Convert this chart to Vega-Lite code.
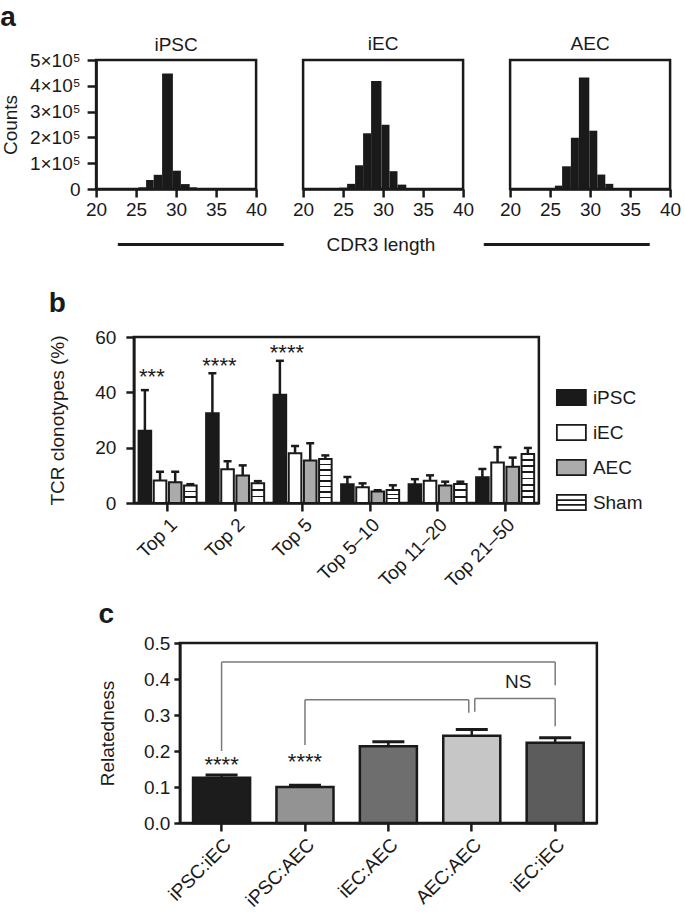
{
  "$schema": "https://vega.github.io/schema/vega-lite/v6.json",
  "padding": {"left": 0, "top": 3, "right": 0, "bottom": 0},
  "background": "#ffffff",
  "config": {
    "font": "Liberation Sans",
    "view": {"stroke": "#1a1a1a", "strokeWidth": 2.5},
    "axis": {
      "domainColor": "#1a1a1a", "domainWidth": 2.5, "tickColor": "#1a1a1a", "tickWidth": 2.5, "tickSize": 8,
      "labelColor": "#1a1a1a", "labelFontSize": 19, "titleFontSize": 19, "titleFontWeight": "normal",
      "titleColor": "#1a1a1a", "grid": false, "labelFont": "Liberation Sans", "titleFont": "Liberation Sans", "labelOverlap": false
    },
    "title": {"color": "#1a1a1a", "font": "Liberation Sans"}
  },
  "resolve": {"scale": {"fill": "independent", "shape": "independent", "x": "independent", "y": "independent"}, "legend": {"fill": "independent", "shape": "independent"}},
  "datasets": {
    "hist": [
      {"s": "iPSC", "x": 25.3, "x2": 26.25, "n": 6500},
      {"s": "iPSC", "x": 26.25, "x2": 27.2, "n": 35000},
      {"s": "iPSC", "x": 27.2, "x2": 28.25, "n": 55000},
      {"s": "iPSC", "x": 28.25, "x2": 29.6, "n": 448000},
      {"s": "iPSC", "x": 29.6, "x2": 30.6, "n": 71000},
      {"s": "iPSC", "x": 30.6, "x2": 31.7, "n": 19000},
      {"s": "iPSC", "x": 31.7, "x2": 32.6, "n": 6500},
      {"s": "iEC", "x": 24.5, "x2": 25.5, "n": 5000},
      {"s": "iEC", "x": 25.5, "x2": 26.5, "n": 20000},
      {"s": "iEC", "x": 26.5, "x2": 27.5, "n": 92000},
      {"s": "iEC", "x": 27.5, "x2": 28.5, "n": 216000},
      {"s": "iEC", "x": 28.5, "x2": 29.8, "n": 419000},
      {"s": "iEC", "x": 29.8, "x2": 30.8, "n": 249000},
      {"s": "iEC", "x": 30.8, "x2": 31.8, "n": 69000},
      {"s": "iEC", "x": 31.8, "x2": 32.9, "n": 17000},
      {"s": "AEC", "x": 24.6, "x2": 25.6, "n": 4000},
      {"s": "AEC", "x": 25.6, "x2": 26.5, "n": 13000},
      {"s": "AEC", "x": 26.5, "x2": 27.6, "n": 88000},
      {"s": "AEC", "x": 27.6, "x2": 28.6, "n": 199000},
      {"s": "AEC", "x": 28.6, "x2": 29.9, "n": 432000},
      {"s": "AEC", "x": 29.9, "x2": 30.9, "n": 226000},
      {"s": "AEC", "x": 30.9, "x2": 31.9, "n": 56000},
      {"s": "AEC", "x": 31.9, "x2": 32.9, "n": 20000}
    ],
    "tcr": [
      {"cat": "Top 1", "group": "iPSC", "value": 26.1, "err": 40.8},
      {"cat": "Top 1", "group": "iEC", "value": 8.1, "err": 11.3},
      {"cat": "Top 1", "group": "AEC", "value": 7.5, "err": 11.3},
      {"cat": "Top 1", "group": "Sham", "value": 6.3, "err": 6.8},
      {"cat": "Top 2", "group": "iPSC", "value": 32.4, "err": 46.9},
      {"cat": "Top 2", "group": "iEC", "value": 12.2, "err": 15.1},
      {"cat": "Top 2", "group": "AEC", "value": 9.9, "err": 13.6},
      {"cat": "Top 2", "group": "Sham", "value": 7.1, "err": 7.9},
      {"cat": "Top 5", "group": "iPSC", "value": 39.1, "err": 51.4},
      {"cat": "Top 5", "group": "iEC", "value": 18.0, "err": 20.6},
      {"cat": "Top 5", "group": "AEC", "value": 15.4, "err": 21.6},
      {"cat": "Top 5", "group": "Sham", "value": 15.9, "err": 17.2},
      {"cat": "Top 5–10", "group": "iPSC", "value": 6.8, "err": 9.4},
      {"cat": "Top 5–10", "group": "iEC", "value": 5.7, "err": 7.1},
      {"cat": "Top 5–10", "group": "AEC", "value": 4.2, "err": 4.6},
      {"cat": "Top 5–10", "group": "Sham", "value": 4.7, "err": 6.4},
      {"cat": "Top 11–20", "group": "iPSC", "value": 6.8, "err": 8.6},
      {"cat": "Top 11–20", "group": "iEC", "value": 8.0, "err": 10.0},
      {"cat": "Top 11–20", "group": "AEC", "value": 6.3, "err": 7.7},
      {"cat": "Top 11–20", "group": "Sham", "value": 6.9, "err": 7.7},
      {"cat": "Top 21–50", "group": "iPSC", "value": 9.3, "err": 12.3},
      {"cat": "Top 21–50", "group": "iEC", "value": 14.6, "err": 20.2},
      {"cat": "Top 21–50", "group": "AEC", "value": 13.1, "err": 16.4},
      {"cat": "Top 21–50", "group": "Sham", "value": 17.7, "err": 19.9}
    ],
    "tcrStars": [
      {"cat": "Top 1", "group": "iPSC", "y": 43.0, "label": "***"},
      {"cat": "Top 2", "group": "iPSC", "y": 46.9, "label": "****"},
      {"cat": "Top 5", "group": "iPSC", "y": 51.8, "label": "****"}
    ],
    "rel": [
      {"pair": "iPSC:iEC", "value": 0.126, "err": 0.133},
      {"pair": "iPSC:AEC", "value": 0.100, "err": 0.105},
      {"pair": "iEC:AEC", "value": 0.213, "err": 0.226},
      {"pair": "AEC:AEC", "value": 0.2426, "err": 0.260},
      {"pair": "iEC:iEC", "value": 0.223, "err": 0.237}
    ],
    "relStars": [
      {"pair": "iPSC:iEC", "y": 0.143, "label": "****"},
      {"pair": "iPSC:AEC", "y": 0.149, "label": "****"}
    ],
    "relNS": [
      {"pair": "iEC:iEC", "y": 0.376, "label": "NS"}
    ],
    "brackets": [
      {"b": 1, "from": "iPSC:iEC", "to": "iEC:iEC", "yl": 0.2, "yr": 0.3825, "top": 0.447},
      {"b": 2, "from": "iPSC:AEC", "to": "AEC:AEC", "yl": 0.217, "yr": 0.306, "top": 0.3425},
      {"b": 3, "from": "AEC:AEC", "to": "iEC:iEC", "yl": 0.309, "yr": 0.269, "top": 0.346}
    ]
  },
  "vconcat": [
    {
      "title": {"text": "a", "fontSize": 28, "fontWeight": "bold", "anchor": "start", "frame": "bounds", "offset": 2},
      "bounds": "flush",
      "spacing": 47,
      "hconcat": [
        {
          "data": {"name": "hist"},
          "transform": [{"filter": "datum.s === 'iPSC'"}],
          "title": {"text": "iPSC", "fontSize": 19, "fontWeight": "normal", "anchor": "middle", "offset": -4},
          "width": 160, "height": 129,
          "mark": {"type": "rect", "fill": "#1a1a1a"},
          "encoding": {
            "x": {"field": "x", "type": "quantitative", "scale": {"domain": [20, 40]},
                  "axis": {"values": [20, 25, 30, 35, 40], "labelFlush": false, "title": null, "labelPadding": 3}},
            "x2": {"field": "x2"},
            "y": {"field": "n", "type": "quantitative", "scale": {"domain": [0, 500000]},
                  "axis": {"values": [0, 100000, 200000, 300000, 400000, 500000], "title": "Counts", "titlePadding": 9, "labelPadding": 7, "tickSize": 9,
                           "labelExpr": "datum.value === 0 ? '0' : (datum.value / 100000) + '×10⁵'"}},
            "y2": {"datum": 0}
          }
        },
        {
          "data": {"name": "hist"},
          "transform": [{"filter": "datum.s === 'iEC'"}],
          "title": {"text": "iEC", "fontSize": 19, "fontWeight": "normal", "anchor": "middle", "offset": 6},
          "width": 160, "height": 129,
          "mark": {"type": "rect", "fill": "#1a1a1a"},
          "encoding": {
            "x": {"field": "x", "type": "quantitative", "scale": {"domain": [20, 40]},
                  "axis": {"values": [20, 25, 30, 35, 40], "labelFlush": false, "labelPadding": 3, "titlePadding": 16,
                           "title": "━━━━━━━━━━━━━━━\u2003\u2003\u00a0CDR3 length\u2003\u2003\u00a0\u00a0━━━━━━━━━━━━━━━"}},
            "x2": {"field": "x2"},
            "y": {"field": "n", "type": "quantitative", "scale": {"domain": [0, 500000]}, "axis": null},
            "y2": {"datum": 0}
          }
        },
        {
          "data": {"name": "hist"},
          "transform": [{"filter": "datum.s === 'AEC'"}],
          "title": {"text": "AEC", "fontSize": 19, "fontWeight": "normal", "anchor": "middle", "offset": 6},
          "width": 160, "height": 129,
          "mark": {"type": "rect", "fill": "#1a1a1a"},
          "encoding": {
            "x": {"field": "x", "type": "quantitative", "scale": {"domain": [20, 40]},
                  "axis": {"values": [20, 25, 30, 35, 40], "labelFlush": false, "title": null, "labelPadding": 3}},
            "x2": {"field": "x2"},
            "y": {"field": "n", "type": "quantitative", "scale": {"domain": [0, 500000]}, "axis": null},
            "y2": {"datum": 0}
          }
        }
      ]
    },
    {
      "title": {"text": ["\u00a0", "b"], "fontSize": 28, "fontWeight": "bold", "anchor": "start", "frame": "bounds", "offset": 10, "lineHeight": 26},
      "width": 405, "height": 166,
      "encoding": {
        "x": {"field": "cat", "type": "nominal",
              "sort": ["Top 1", "Top 2", "Top 5", "Top 5–10", "Top 11–20", "Top 21–50"],
              "scale": {"paddingInner": 0.14, "paddingOuter": 0.07},
              "axis": {"title": null, "labelAngle": -45, "labelPadding": 4}},
        "xOffset": {"field": "group", "type": "nominal", "sort": ["iPSC", "iEC", "AEC", "Sham"],
                    "scale": {"paddingInner": 0.17, "paddingOuter": 0}},
        "y": {"type": "quantitative", "scale": {"domain": [0, 60]},
              "axis": {"values": [0, 20, 40, 60], "title": "TCR clonotypes (%)", "titlePadding": 27, "labelPadding": 10}}
      },
      "layer": [
        {
          "data": {"name": "tcr"},
          "mark": {"type": "bar", "stroke": "#1a1a1a", "strokeWidth": 2},
          "encoding": {
            "y": {"field": "value", "type": "quantitative"},
            "fill": {
              "field": "group", "type": "nominal",
              "scale": {"domain": ["iPSC", "iEC", "AEC", "Sham"], "range": ["#1a1a1a", "#ffffff", "#ababab", "#ffffff"]},
              "condition": [
                {"test": "datum.group === 'Sham' && datum.value > 12", "value": {"gradient": "linear", "x1": 0, "y1": 0, "x2": 0, "y2": 1, "stops": [
                  {"offset": 0, "color": "#ffffff"},
                  {"offset": 0.105, "color": "#ffffff"}, {"offset": 0.105, "color": "#1a1a1a"}, {"offset": 0.145, "color": "#1a1a1a"}, {"offset": 0.145, "color": "#ffffff"},
                  {"offset": 0.23, "color": "#ffffff"}, {"offset": 0.23, "color": "#1a1a1a"}, {"offset": 0.27, "color": "#1a1a1a"}, {"offset": 0.27, "color": "#ffffff"},
                  {"offset": 0.355, "color": "#ffffff"}, {"offset": 0.355, "color": "#1a1a1a"}, {"offset": 0.395, "color": "#1a1a1a"}, {"offset": 0.395, "color": "#ffffff"},
                  {"offset": 0.48, "color": "#ffffff"}, {"offset": 0.48, "color": "#1a1a1a"}, {"offset": 0.52, "color": "#1a1a1a"}, {"offset": 0.52, "color": "#ffffff"},
                  {"offset": 0.605, "color": "#ffffff"}, {"offset": 0.605, "color": "#1a1a1a"}, {"offset": 0.645, "color": "#1a1a1a"}, {"offset": 0.645, "color": "#ffffff"},
                  {"offset": 0.73, "color": "#ffffff"}, {"offset": 0.73, "color": "#1a1a1a"}, {"offset": 0.77, "color": "#1a1a1a"}, {"offset": 0.77, "color": "#ffffff"},
                  {"offset": 0.855, "color": "#ffffff"}, {"offset": 0.855, "color": "#1a1a1a"}, {"offset": 0.895, "color": "#1a1a1a"}, {"offset": 0.895, "color": "#ffffff"},
                  {"offset": 1, "color": "#ffffff"}]}},
                {"test": "datum.group === 'Sham'", "value": {"gradient": "linear", "x1": 0, "y1": 0, "x2": 0, "y2": 1, "stops": [
                  {"offset": 0, "color": "#ffffff"},
                  {"offset": 0.288, "color": "#ffffff"}, {"offset": 0.288, "color": "#1a1a1a"}, {"offset": 0.378, "color": "#1a1a1a"}, {"offset": 0.378, "color": "#ffffff"},
                  {"offset": 0.622, "color": "#ffffff"}, {"offset": 0.622, "color": "#1a1a1a"}, {"offset": 0.712, "color": "#1a1a1a"}, {"offset": 0.712, "color": "#ffffff"},
                  {"offset": 1, "color": "#ffffff"}]}}
              ],
              "legend": {
                "title": null, "orient": "none", "legendX": 422, "legendY": 45, "padding": 0,
                "symbolSize": 841, "symbolStrokeColor": "#1a1a1a", "symbolStrokeWidth": 1.8, "symbolOpacity": 1,
                "labelFontSize": 19, "labelColor": "#1a1a1a", "labelOffset": 6, "rowPadding": 8,
                "encode": {"symbols": {"update": {"stroke": {"value": "#1a1a1a"}}}}
              }
            }
          }
        },
        {
          "data": {"name": "tcr"},
          "mark": {"type": "point", "filled": true, "opacity": 0, "stroke": "#1a1a1a", "strokeWidth": 1.8},
          "encoding": {
            "y": {"field": "value", "type": "quantitative"},
            "fill": {"field": "group", "type": "nominal",
                     "legend": {
                       "title": null, "orient": "none", "legendX": 422, "legendY": 45, "padding": 0,
                       "symbolSize": 841, "symbolStrokeColor": "#1a1a1a", "symbolStrokeWidth": 1.8, "symbolOpacity": 1,
                       "labelFontSize": 19, "labelColor": "#1a1a1a", "labelOffset": 6, "rowPadding": 8,
                       "encode": {"symbols": {"update": {"stroke": {"value": "#1a1a1a"}}}}
                     }},
            "shape": {"field": "group", "type": "nominal",
                      "scale": {"domain": ["iPSC", "iEC", "AEC", "Sham"],
                                "range": ["M-1,-0.52L1,-0.52L1,0.52L-1,0.52Z", "M-1,-0.52L1,-0.52L1,0.52L-1,0.52Z", "M-1,-0.52L1,-0.52L1,0.52L-1,0.52Z",
                                          "M-1,-0.52L1,-0.52L1,0.52L-1,0.52Z M-1,-0.17L1,-0.17 M-1,0.17L1,0.17"]},
                      "legend": {
                        "title": null, "orient": "none", "legendX": 422, "legendY": 45, "padding": 0,
                        "symbolSize": 841, "symbolStrokeColor": "#1a1a1a", "symbolStrokeWidth": 1.8, "symbolOpacity": 1,
                        "labelFontSize": 19, "labelColor": "#1a1a1a", "labelOffset": 6, "rowPadding": 8,
                        "encode": {"symbols": {"update": {"stroke": {"value": "#1a1a1a"}}}}
                      }}
          }
        },
        {
          "data": {"name": "tcr"},
          "mark": {"type": "rule", "color": "#1a1a1a", "strokeWidth": 2.5},
          "encoding": {
            "y": {"field": "value", "type": "quantitative"},
            "y2": {"field": "err"}
          }
        },
        {
          "data": {"name": "tcr"},
          "mark": {"type": "tick", "color": "#1a1a1a", "size": 8, "thickness": 2.5, "opacity": 1},
          "encoding": {
            "y": {"field": "err", "type": "quantitative"}
          }
        },
        {
          "data": {"name": "tcrStars"},
          "mark": {"type": "text", "fontSize": 22, "color": "#1a1a1a", "dx": 7, "baseline": "alphabetic", "align": "center"},
          "encoding": {
            "y": {"field": "y", "type": "quantitative"},
            "text": {"field": "label"}
          }
        }
      ]
    },
    {
      "title": {"text": "c", "fontSize": 28, "fontWeight": "bold", "anchor": "start", "frame": "bounds", "offset": 5},
      "width": 417, "height": 180,
      "encoding": {
        "x": {"field": "pair", "type": "nominal",
              "sort": ["iPSC:iEC", "iPSC:AEC", "iEC:AEC", "AEC:AEC", "iEC:iEC"],
              "scale": {"domain": ["iPSC:iEC", "iPSC:AEC", "iEC:AEC", "AEC:AEC", "iEC:iEC"], "paddingInner": 0.316, "paddingOuter": 0.158},
              "axis": {"title": null, "labelAngle": -45, "labelPadding": 4}},
        "y": {"type": "quantitative", "scale": {"domain": [0, 0.5]},
              "axis": {"values": [0, 0.1, 0.2, 0.3, 0.4, 0.5], "format": ".1f", "title": "Relatedness", "titlePadding": 26, "labelPadding": 4, "tickSize": 6}}
      },
      "layer": [
        {
          "data": {"name": "rel"},
          "mark": {"type": "bar", "stroke": "#1a1a1a", "strokeWidth": 2.5},
          "encoding": {
            "y": {"field": "value", "type": "quantitative"},
            "fill": {"field": "pair", "type": "nominal", "legend": null,
                     "scale": {"domain": ["iPSC:iEC", "iPSC:AEC", "iEC:AEC", "AEC:AEC", "iEC:iEC"],
                               "range": ["#1c1c1c", "#939393", "#6e6e6e", "#c6c6c6", "#5c5c5c"]}}
          }
        },
        {
          "data": {"name": "rel"},
          "mark": {"type": "rule", "color": "#1a1a1a", "strokeWidth": 2.5},
          "encoding": {"y": {"field": "value", "type": "quantitative"}, "y2": {"field": "err"}}
        },
        {
          "data": {"name": "rel"},
          "mark": {"type": "tick", "color": "#1a1a1a", "size": 32, "thickness": 3, "opacity": 1},
          "encoding": {"y": {"field": "err", "type": "quantitative"}}
        },
        {
          "data": {"name": "brackets"},
          "transform": [{"filter": "datum.b !== 3"}],
          "mark": {"type": "rule", "color": "#7a7a7a", "strokeWidth": 1.5},
          "encoding": {"x": {"field": "from", "type": "nominal"}, "y": {"field": "yl", "type": "quantitative"}, "y2": {"field": "top"}}
        },
        {
          "data": {"name": "brackets"},
          "transform": [{"filter": "datum.b === 1"}],
          "mark": {"type": "rule", "color": "#7a7a7a", "strokeWidth": 1.5},
          "encoding": {"x": {"field": "from", "type": "nominal"}, "x2": {"field": "to"}, "y": {"field": "top", "type": "quantitative"}}
        },
        {
          "data": {"name": "brackets"},
          "transform": [{"filter": "datum.b === 1"}],
          "mark": {"type": "rule", "color": "#7a7a7a", "strokeWidth": 1.5},
          "encoding": {"x": {"field": "to", "type": "nominal"}, "y": {"field": "yr", "type": "quantitative"}, "y2": {"field": "top"}}
        },
        {
          "data": {"name": "brackets"},
          "transform": [{"filter": "datum.b === 2"}],
          "mark": {"type": "rule", "color": "#7a7a7a", "strokeWidth": 1.5, "x2Offset": -3},
          "encoding": {"x": {"field": "from", "type": "nominal"}, "x2": {"field": "to"}, "y": {"field": "top", "type": "quantitative"}}
        },
        {
          "data": {"name": "brackets"},
          "transform": [{"filter": "datum.b === 2"}],
          "mark": {"type": "rule", "color": "#7a7a7a", "strokeWidth": 1.5, "xOffset": -3},
          "encoding": {"x": {"field": "to", "type": "nominal"}, "y": {"field": "yr", "type": "quantitative"}, "y2": {"field": "top"}}
        },
        {
          "data": {"name": "brackets"},
          "transform": [{"filter": "datum.b === 3"}],
          "mark": {"type": "rule", "color": "#7a7a7a", "strokeWidth": 1.5, "xOffset": 3},
          "encoding": {"x": {"field": "from", "type": "nominal"}, "y": {"field": "yl", "type": "quantitative"}, "y2": {"field": "top"}}
        },
        {
          "data": {"name": "brackets"},
          "transform": [{"filter": "datum.b === 3"}],
          "mark": {"type": "rule", "color": "#7a7a7a", "strokeWidth": 1.5, "xOffset": 3},
          "encoding": {"x": {"field": "from", "type": "nominal"}, "x2": {"field": "to"}, "y": {"field": "top", "type": "quantitative"}}
        },
        {
          "data": {"name": "brackets"},
          "transform": [{"filter": "datum.b === 3"}],
          "mark": {"type": "rule", "color": "#7a7a7a", "strokeWidth": 1.5},
          "encoding": {"x": {"field": "to", "type": "nominal"}, "y": {"field": "yr", "type": "quantitative"}, "y2": {"field": "top"}}
        },
        {
          "data": {"name": "relStars"},
          "mark": {"type": "text", "fontSize": 22, "color": "#1a1a1a", "baseline": "alphabetic", "align": "center"},
          "encoding": {"y": {"field": "y", "type": "quantitative"}, "text": {"field": "label"}}
        },
        {
          "data": {"name": "relNS"},
          "mark": {"type": "text", "fontSize": 19, "color": "#1a1a1a", "baseline": "alphabetic", "align": "center", "dx": -37},
          "encoding": {"y": {"field": "y", "type": "quantitative"}, "text": {"field": "label"}}
        }
      ]
    }
  ],
  "spacing": 6,
  "center": true
}
